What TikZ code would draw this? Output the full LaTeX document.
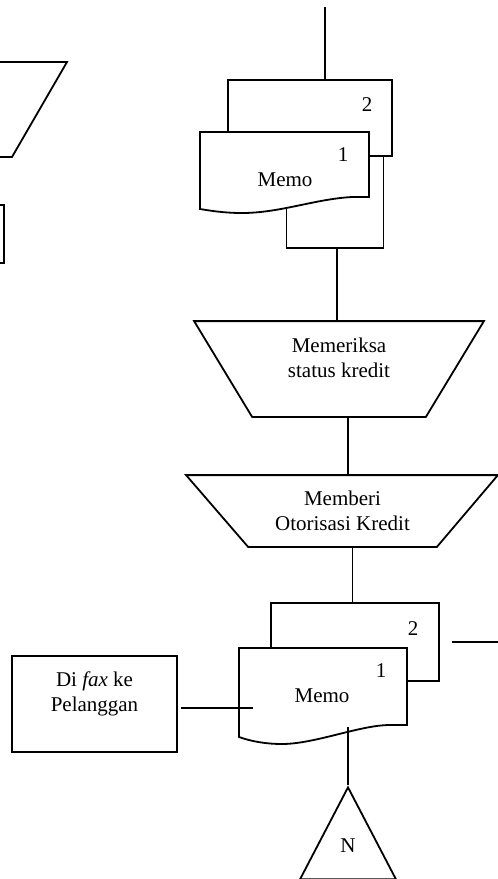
\documentclass[tikz,border=0pt]{standalone}
\usepackage{fontspec}
\setmainfont{Liberation Serif}
\usepackage{tikz}
\usetikzlibrary{positioning}
\usetikzlibrary{shapes,calc}
\tikzset{
	lembar/.style = {rectangle, draw, fill=white, inner sep=0pt},
	nomor/.style = {inner sep=0pt},
	proses/.style = {rectangle, inner sep=0pt, align=center},
	kotak/.style = {rectangle, draw, inner sep=0pt, align=center},
	ujung/.style = {isosceles triangle, draw, isosceles triangle stretches,
		shape border rotate=90, inner sep=0pt},
}

\begin{document}
\begin{tikzpicture}[x=1pt, y=-1pt, line width=1.8pt, font=\fontsize{21}{25}\selectfont]
	\useasboundingbox (0,0) rectangle (498,879);
	% bentuk yang terpotong di kiri
	\begin{scope}
		\clip (0,0) rectangle (498,879);
		\draw (-20,62) -- (67,62) -- (12,157) -- (-20,157);
		\draw (-20,205) -- (4,205) -- (4,263) -- (-20,263);
	\end{scope}
	% memo atas
	\coordinate (atas) at (325,7);
	\node (lbr3) [lembar, minimum width=97pt, minimum height=100pt] at (335,198) {};
	\node (lbr2) [lembar, minimum width=164pt, minimum height=76pt,
		label={[nomor, xshift=57pt, yshift=13pt]center:2}] at (310,118) {};
	\draw[fill=white] (200,132) -- (369,132) -- (369,197) -- (352,197)
		.. controls (315,199) and (280,213) .. (242,213)
		.. controls (225,213) and (212,211) .. (200,209) -- cycle;
	\node (no1) [nomor] at (343,155) {1};
	\node (memo1) at (285,180) {Memo};
	\draw (atas) -- (atas |- lbr2.north);
	% proses
	\node (cek) [proses, minimum width=172pt, minimum height=94pt,
		label={[align=center, yshift=11pt]center:{Memeriksa\\status kredit}}] at (339,369) {};
	\draw ([xshift=-58pt]cek.north west) -- ([xshift=58pt]cek.north east)
		-- (cek.south east) -- (cek.south west) -- cycle;
	\draw ([xshift=2pt]lbr3.south) -- ([xshift=2pt]lbr3.south |- cek.north);
	\node (oto) [proses, minimum width=187pt, minimum height=70pt] at (342.5,511)
		{Memberi\\Otorisasi Kredit};
	\draw ([xshift=-62pt]oto.north west) -- ([xshift=61pt]oto.north east)
		-- (oto.south east) -- (oto.south west) -- cycle;
	\draw ([xshift=9pt]cek.south) -- ([xshift=9pt]cek.south |- oto.north);
	% memo bawah
	\node (lbr2b) [lembar, minimum width=168pt, minimum height=78pt,
		label={[nomor, xshift=58pt, yshift=13pt]center:2}] at (355,642) {};
	\draw ([xshift=10pt]oto.south) -- ([xshift=10pt]oto.south |- lbr2b.north);
	\draw[fill=white] (239,648) -- (407,648) -- (407,725) -- (390,725)
		.. controls (360,725) and (315,744) .. (282,744)
		.. controls (265,744) and (250,741) .. (239,737) -- cycle;
	\node (no1b) [nomor] at (381,671) {1};
	\node (memo2) at (322,696) {Memo};
	\coordinate (kanan) at (498,642);
	\draw ([xshift=12pt]lbr2b.east) -- (kanan);
	\node (fax) [kotak, minimum width=165pt, minimum height=96pt,
		label={[align=center, yshift=10pt]center:{Di \textit{fax} ke\\Pelanggan}}] at (94.5,704) {};
	\coordinate (masuk) at (253,708);
	\draw ([xshift=3pt]fax.east |- masuk) -- (masuk);
	\coordinate (gel2) at (348,727);
	\node (akhir) [ujung, minimum width=96pt, minimum height=92pt, anchor=apex] at (348,785) {};
	\node (n) at ([yshift=-61pt]akhir.apex) {N};
	\draw (gel2) -- (akhir.apex);
\end{tikzpicture}
\end{document}
